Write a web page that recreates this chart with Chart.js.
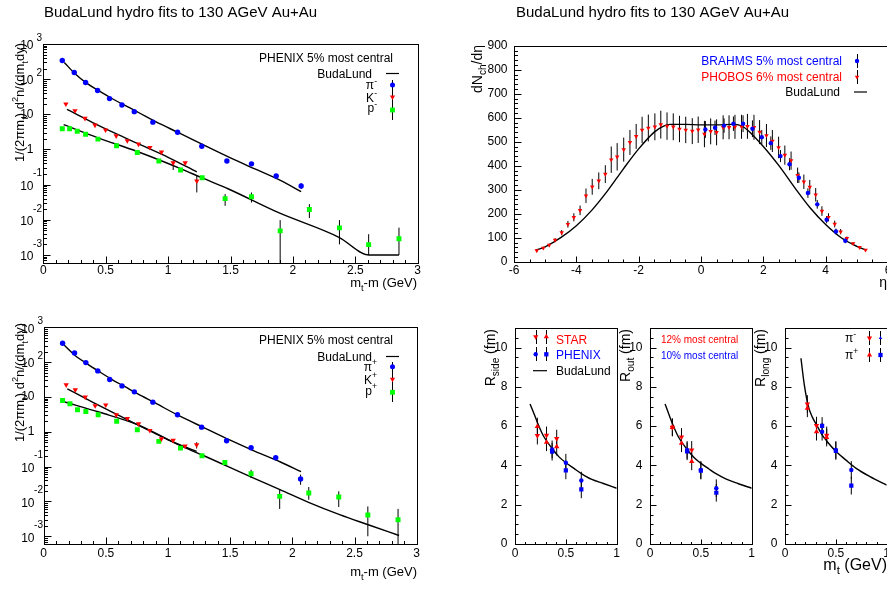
<!DOCTYPE html>
<html>
<head>
<meta charset="utf-8">
<script src="https://cdn.jsdelivr.net/npm/chart.js@4.4.0/dist/chart.umd.min.js"></script>
<style>
  html, body { margin: 0; padding: 0; background: #fff; overflow: hidden; width: 887px; height: 589px; }
  canvas { position: absolute; left: 0; top: 0; }
</style>
</head>
<body>
<canvas id="tl" width="900" height="589"></canvas>
<canvas id="tr" width="900" height="589"></canvas>
<canvas id="bl" width="900" height="589"></canvas>
<canvas id="side" width="900" height="589"></canvas>
<canvas id="out" width="900" height="589"></canvas>
<canvas id="long" width="900" height="589"></canvas>
<script>
// ---------- spectra (PHENIX 5% most central) ----------
const piX = [0.152, 0.248, 0.339, 0.435, 0.531, 0.63, 0.729, 0.878, 1.076, 1.27, 1.471, 1.668, 1.866, 2.066];
const piMinus = [341, 155, 80, 47.5, 28, 18.5, 11.9, 6.0, 3.1, 1.24, 0.47, 0.39, 0.177, 0.092];
const piPlus = [348, 184, 97, 56, 31.6, 20.8, 14, 7.1, 3.07, 1.36, 0.552, 0.348, 0.18, 0.044];
const kX = [0.181, 0.254, 0.334, 0.414, 0.499, 0.584, 0.673, 0.763, 0.854, 0.947, 1.041, 1.137, 1.23];
const kMinus = [19.7, 12.7, 7.7, 4.95, 3.6, 2.45, 1.77, 1.42, 1.14, 0.84, 0.416, 0.416, 0.127];
const kPlus = [22.2, 16, 9.9, 5.6, 5.9, 3.07, 2.41, 1.69, 1.09, 0.63, 0.565, 0.39, 0.42];
const pX = [0.152, 0.211, 0.272, 0.339, 0.438, 0.587, 0.753, 0.926, 1.1, 1.273, 1.457, 1.668, 1.898, 2.132, 2.373, 2.607, 2.85];
const pMinus = [3.9, 3.9, 3.3, 2.7, 1.97, 1.27, 0.82, 0.47, 0.26, 0.158, 0.04, 0.045, 0.00485, 0.0197, 0.0059, 0.00197, 0.0029];
const pPlus = [7.9, 6.35, 4.28, 3.83, 3.07, 2.02, 1.14, 0.53, 0.34, 0.205, 0.132, 0.0625, 0.014, 0.0175, 0.0134, 0.0041, 0.003];

// visible error bars only
const minusErrX = [1.23, 1.041, 2.066, 1.457, 1.668, 1.898, 2.132, 2.373, 2.607, 2.85];
const minusErrLo = [0.06, 0.26, 0.075, 0.025, 0.031, 0.0001, 0.0112, 0.002, 0.001, 0.001];
const minusErrHi = [0.18, 0.46, 0.11, 0.054, 0.06, 0.0098, 0.028, 0.0098, 0.0039, 0.006];
const plusErrX = [2.066, 1.668, 1.898, 2.132, 2.373, 2.607, 2.85, 1.23];
const plusErrLo = [0.030, 0.047, 0.0061, 0.0112, 0.0069, 0.001, 0.0001, 0.33];
const plusErrHi = [0.059, 0.081, 0.0227, 0.026, 0.0195, 0.0072, 0.0061, 0.5];

// BudaLund fits
const fitPiMinusX = [0.168, 0.25, 0.35, 0.45, 0.55, 0.65, 0.75, 0.9, 1.1, 1.3, 1.5, 1.7, 1.9, 2.066];
const fitPiMinus = [299, 148, 75.9, 45.7, 28.2, 18.2, 12.0, 6.17, 2.82, 1.26, 0.575, 0.275, 0.132, 0.063];
const fitPiPlusX = [0.164, 0.25, 0.35, 0.45, 0.55, 0.65, 0.75, 0.9, 1.1, 1.3, 1.5, 1.7, 1.9, 2.07];
const fitPiPlus = [309, 158, 89, 52.5, 31.6, 20, 12.6, 6.6, 2.75, 1.26, 0.575, 0.275, 0.138, 0.072];
const fitKX = [0.19, 0.4, 0.6, 0.8, 1.0, 1.23];
const fitKMinus = [13.8, 5.75, 2.63, 1.26, 0.6, 0.23];
const fitKPlus = [17, 6.9, 3.0, 1.32, 0.59, 0.275];
const fitPMinusX = [0.163, 0.438, 0.753, 1.1, 1.273, 1.484, 1.881, 2.373, 2.607, 2.85];
const fitPMinus = [5.07, 2.15, 0.877, 0.286, 0.155, 0.0752, 0.0162, 0.00313, 0.001, 0.001];
const fitPPlusX = [0.158, 0.45, 0.76, 1.1, 1.27, 1.67, 1.9, 2.14, 2.38, 2.61, 2.858];
const fitPPlus = [7.4, 3.63, 1.58, 0.398, 0.219, 0.05, 0.0219, 0.00912, 0.00417, 0.00214, 0.00105];

// ---------- dN/deta ----------
const phobosX = [-5.27, -5.06, -4.87, -4.68, -4.47, -4.27, -4.08, -3.88, -3.69, -3.49, -3.28, -3.07, -2.88, -2.69, -2.48, -2.28, -2.08, -1.89, -1.69, -1.48, -1.29, -1.09, -0.89, -0.69, -0.49, -0.28, -0.09, 0.11, 0.31, 0.5, 0.71, 0.9, 1.09, 1.3, 1.49, 1.7, 1.88, 2.1, 2.29, 2.49, 2.69, 2.89, 3.1, 3.3, 3.49, 3.68, 3.88, 4.09, 4.29, 4.48, 4.68, 4.88, 5.09, 5.28];
const phobos = [46, 57, 69, 90, 121, 156, 185, 214, 275, 312, 337, 365, 425, 437, 467, 497, 522, 549, 557, 562, 571, 565, 562, 553, 549, 544, 550, 532, 543, 539, 560, 560, 562, 562, 564, 560, 540, 526, 503, 476, 444, 421, 360, 333, 311, 279, 211, 185, 157, 125, 97, 76, 60, 49];
const phobosErr = [4, 5, 6, 8, 11, 14, 17, 20, 30, 33, 35, 37, 55, 57, 50, 52, 52, 55, 56, 56, 58, 57, 56, 55, 55, 54, 55, 55, 54, 54, 50, 50, 50, 50, 52, 52, 50, 48, 46, 45, 40, 38, 32, 30, 30, 28, 20, 17, 14, 11, 8, 6, 5, 4];
const brahmsX = [0.14, 0.45, 0.74, 1.04, 1.35, 1.65, 1.95, 2.24, 2.55, 2.84, 3.14, 3.43, 3.73, 4.03, 4.33, 4.63];
const brahms = [551, 558, 567, 575, 575, 554, 519, 494, 440, 406, 350, 286, 239, 175, 126, 87];
const brahmsErr = [35, 30, 30, 30, 35, 35, 30, 28, 25, 25, 22, 20, 18, 15, 12, 10];
const fitEtaX = [-5.3, -5, -4.5, -4, -3.5, -3, -2.5, -2, -1.5, -1.2, -1, -0.5, 0, 0.5, 1, 1.3, 1.5, 2, 2.5, 3, 3.5, 4, 4.5, 5, 5.3];
const fitEta = [48, 62, 100, 150, 215, 295, 385, 470, 540, 565, 572, 572, 570, 570, 572, 566, 548, 480, 400, 310, 225, 155, 100, 64, 48];

// ---------- HBT radii ----------
const starX = [0.22, 0.31, 0.41];
const phenixX = [0.365, 0.5, 0.652];
const sideStarMinus = [5.52, 5.53, 5.37], sideStarPlus = [5.98, 5.18, 4.96];
const sidePhxMinus = [4.82, 4.14, 3.23], sidePhxPlus = [4.70, 3.75, 2.78];
const outStarMinus = [5.94, 5.45, 4.79], outStarPlus = [5.94, 5.13, 4.21];
const outPhxMinus = [4.79, 3.77, 2.84], outPhxPlus = [4.72, 3.74, 2.61];
const longStarMinus = [7.13, 6.03, 5.53], longStarPlus = [6.91, 5.72, 5.42];
const longPhxMinus = [5.72, 4.79, 3.77], longPhxPlus = [6.01, 4.74, 2.97];
const radErr = 0.45;
const fitSideX = [0.148, 0.19, 0.223, 0.28, 0.36, 0.43, 0.498, 0.58, 0.649, 0.75, 0.869, 1.0];
const fitSide = [7.13, 6.6, 6.15, 5.5, 4.9, 4.45, 4.15, 3.85, 3.6, 3.3, 3.08, 2.84];
const fitOut = [7.13, 6.55, 6.1, 5.45, 4.85, 4.42, 4.12, 3.82, 3.58, 3.3, 3.07, 2.84];
const fitLongX = [0.157, 0.19, 0.23, 0.27, 0.311, 0.36, 0.416, 0.5, 0.6, 0.7, 0.836, 1.0];
const fitLong = [9.46, 8.1, 7.0, 6.45, 6.06, 5.6, 5.21, 4.72, 4.27, 3.85, 3.43, 3.0];

// tick labels
const spectraXLabels = ['0', '0.5', '1', '1.5', '2', '2.5', '3'];
const spectraYExp = [-3, -2, -1, 0, 1, 2, 3];
const etaXLabels = ['-6', '-4', '-2', '0', '2', '4', '6'];
const etaYLabels = ['0', '100', '200', '300', '400', '500', '600', '700', '800', '900'];
const radXLabels = ['0', '0.5', '1'];
const radYLabels = ['0', '2', '4', '6', '8', '10'];

const FONT = '"Liberation Sans", Arial, Helvetica, sans-serif';
const BLUE = '#0000ff', RED = '#ff0000', GREEN = '#00ff00';

// ---------- helpers ----------
const pts = (xs, ys) => xs.map((x, i) => ({ x, y: ys[i] }));
const errPts = (xs, lo, hi) => xs.flatMap((x, i) => [{ x, y: lo[i] }, { x, y: hi[i] }, { x, y: null }]);
const symErr = (xs, ys, e) => errPts(xs, ys.map((y, i) => y - (Array.isArray(e) ? e[i] : e)), ys.map((y, i) => y + (Array.isArray(e) ? e[i] : e)));

const dots = (data, color, style, r, rot) => ({
  data, pointStyle: style, pointRadius: r, rotation: rot || 0,
  backgroundColor: color, borderColor: color, borderWidth: 0, showLine: false,
});
const curve = data => ({
  data, showLine: true, pointRadius: 0, borderColor: '#000', borderWidth: 1.4,
  cubicInterpolationMode: 'monotone', fill: false,
});
const bars = data => ({ data, showLine: true, spanGaps: false, pointRadius: 0, borderColor: '#000', borderWidth: 1 });

function steps(a, b, d) {
  const out = [];
  const n = Math.round((b - a) / d);
  for (let i = 0; i <= n; i++) out.push(+(a + i * d).toFixed(6));
  return out;
}
function logMinor(min, max) {
  const out = [];
  for (let e = -4; e <= 3; e++) for (let k = 2; k <= 9; k++) {
    const v = k * Math.pow(10, e);
    if (v > min && v < max) out.push(v);
  }
  return out;
}

function txt(ctx, s, x, y, size, align, color, base) {
  ctx.font = size + 'px ' + FONT;
  ctx.fillStyle = color || '#000';
  ctx.textAlign = align || 'left';
  ctx.textBaseline = base || 'alphabetic';
  ctx.fillText(s, x, y);
}
// parts: [text, mode]; mode 0 normal, 1 subscript, 2 superscript
function rich(ctx, parts, x, y, size, align, color) {
  const fs = m => (m ? size * 0.72 : size);
  let w = 0;
  parts.forEach(([t, m]) => { ctx.font = fs(m) + 'px ' + FONT; w += ctx.measureText(t).width; });
  let cx = align === 'right' ? x - w : align === 'center' ? x - w / 2 : x;
  ctx.fillStyle = color || '#000';
  ctx.textAlign = 'left';
  ctx.textBaseline = 'alphabetic';
  parts.forEach(([t, m]) => {
    ctx.font = fs(m) + 'px ' + FONT;
    const dy = m === 1 ? size * 0.28 : m === 2 ? -size * 0.45 : 0;
    ctx.fillText(t, cx, y + dy);
    cx += ctx.measureText(t).width;
  });
}
function vtitle(ctx, parts, x, yTop, size) {
  ctx.save();
  ctx.translate(x, yTop);
  ctx.rotate(-Math.PI / 2);
  rich(ctx, parts, 0, 0, size, 'right');
  ctx.restore();
}
function mark(ctx, style, x, y, r, color) {
  ctx.fillStyle = color;
  ctx.beginPath();
  if (style === 'circle') ctx.arc(x, y, r, 0, Math.PI * 2);
  else if (style === 'rect') ctx.rect(x - r * 0.71, y - r * 0.71, r * 1.42, r * 1.42);
  else if (style === 'down') { ctx.moveTo(x - r * 0.87, y - r * 0.5); ctx.lineTo(x + r * 0.87, y - r * 0.5); ctx.lineTo(x, y + r); }
  else { ctx.moveTo(x - r * 0.87, y + r * 0.5); ctx.lineTo(x + r * 0.87, y + r * 0.5); ctx.lineTo(x, y - r); }
  ctx.closePath();
  ctx.fill();
}
function vline(ctx, x, y0, y1) {
  ctx.strokeStyle = '#000'; ctx.lineWidth = 1;
  ctx.beginPath(); ctx.moveTo(Math.round(x) + 0.5, y0); ctx.lineTo(Math.round(x) + 0.5, y1); ctx.stroke();
}
function hline(ctx, x0, x1, y) {
  ctx.strokeStyle = '#000'; ctx.lineWidth = 1.2;
  ctx.beginPath(); ctx.moveTo(x0, y); ctx.lineTo(x1, y); ctx.stroke();
}

// ROOT-like frame: box, inward ticks, labels, extras
const rootFrame = {
  id: 'rootFrame',
  afterDatasetsDraw(chart, args, o) {
    const ctx = chart.ctx, a = chart.chartArea;
    const sx = chart.scales.x, sy = chart.scales.y;
    const L = Math.round(a.left) + 0.5, R = Math.round(a.right) + 0.5;
    const T = Math.round(a.top) + 0.5, B = Math.round(a.bottom) + 0.5;
    ctx.save();
    ctx.strokeStyle = '#000';
    ctx.lineWidth = 1;
    ctx.strokeRect(L, T, R - L, B - T);
    ctx.beginPath();
    o.xMajor.forEach(v => { const p = Math.round(sx.getPixelForValue(v)) + 0.5; ctx.moveTo(p, B); ctx.lineTo(p, B - o.xt); });
    o.xMinor.forEach(v => { const p = Math.round(sx.getPixelForValue(v)) + 0.5; ctx.moveTo(p, B); ctx.lineTo(p, B - o.xt / 2); });
    o.yMajor.forEach(v => { const p = Math.round(sy.getPixelForValue(v)) + 0.5; ctx.moveTo(L, p); ctx.lineTo(L + o.yt, p); });
    o.yMinor.forEach(v => { const p = Math.round(sy.getPixelForValue(v)) + 0.5; ctx.moveTo(L, p); ctx.lineTo(L + o.yt / 2, p); });
    ctx.stroke();
    o.xLabels.forEach(([v, s]) => txt(ctx, s, sx.getPixelForValue(v), o.xLabelY, 12, 'center', '#000', 'middle'));
    o.yLabels.forEach(([v, s, e]) => {
      const p = sy.getPixelForValue(v);
      if (e === undefined) {
        txt(ctx, s, L - o.yGap, p, 12, 'right', '#000', 'middle');
      } else {
        txt(ctx, s, L - 10, p + 2, 12, 'right', '#000', 'middle');
        txt(ctx, e, L - 1.5, p + (e[0] === '-' ? -11 : -6), 10, 'right', '#000', 'middle');
      }
    });
    if (o.extra) o.extra(ctx);
    ctx.restore();
  },
};

function panel(id, box, xScale, yScale, datasets, frame) {
  return new Chart(document.getElementById(id), {
    type: 'scatter',
    data: { datasets },
    options: {
      responsive: false,
      animation: false,
      events: [],
      layout: { padding: { left: box[0], top: box[1], right: 900 - box[2], bottom: 589 - box[3] } },
      scales: {
        x: Object.assign({ display: false }, xScale),
        y: Object.assign({ display: false }, yScale),
      },
      plugins: { legend: { display: false }, tooltip: { enabled: false }, rootFrame: frame },
    },
    plugins: [rootFrame],
  });
}

const spectraY = (lo) => ({ type: 'logarithmic', min: lo, max: 1000 });
const spectraYLabels = spectraYExp.map(e => e === 0 ? [1, '1'] : e === 1 ? [10, '10'] : [Math.pow(10, e), '10', String(e)]);
const spectraFrame = (lo, labelY, extra) => ({
  xMajor: steps(0, 3, 0.5), xMinor: steps(0, 3, 0.1), xt: 7,
  yMajor: spectraYExp.map(e => Math.pow(10, e)), yMinor: logMinor(lo, 1000), yt: 7,
  xLabels: spectraXLabels.map(s => [parseFloat(s), s]), xLabelY: labelY,
  yLabels: spectraYLabels, yGap: 10, extra,
});
const yTitleSpectra = [['1/(2πm', 0], ['t', 1], [') d', 0], ['2', 2], ['n/(dm', 0], ['t', 1], ['dy)', 0]];
const xTitleSpectra = [['m', 0], ['t', 1], ['-m (GeV)', 0]];
const TITLE = 'BudaLund hydro fits to 130 AGeV Au+Au';

// ---------- top left: negative particles ----------
panel('tl', [43.3, 44, 417.7, 263.3], { min: 0, max: 3 }, spectraY(5.8e-4), [
  dots(pts(piX, piMinus), BLUE, 'circle', 2.7),
  dots(pts(kX, kMinus), RED, 'triangle', 3.1, 180),
  dots(pts(pX, pMinus), GREEN, 'rect', 3.5),
  curve(pts(fitPiMinusX, fitPiMinus)),
  curve(pts(fitKX, fitKMinus)),
  curve(pts(fitPMinusX, fitPMinus)),
  bars(errPts(minusErrX, minusErrLo, minusErrHi)),
], spectraFrame(5.8e-4, 271, ctx => {
  txt(ctx, TITLE, 44, 17, 15);
  vtitle(ctx, yTitleSpectra, 24, 43, 13);
  rich(ctx, xTitleSpectra, 417, 287, 13, 'right');
  txt(ctx, 'PHENIX 5% most central', 393, 61.5, 12, 'right');
  txt(ctx, 'BudaLund', 372, 77.5, 12, 'right');
  hline(ctx, 386, 399, 73.5);
  rich(ctx, [['π', 0], ['-', 2]], 377, 89, 12, 'right');
  rich(ctx, [['K', 0], ['-', 2]], 377, 101.5, 12, 'right');
  rich(ctx, [['p', 0], ['-', 2]], 377, 112, 12, 'right');
  vline(ctx, 392, 80, 120);
  mark(ctx, 'circle', 392.5, 85, 2.5, BLUE);
  mark(ctx, 'down', 392.5, 97, 3, RED);
  mark(ctx, 'rect', 392.5, 110, 3.4, GREEN);
}));

// ---------- bottom left: positive particles ----------
panel('bl', [43.7, 327.3, 416.7, 544], { min: 0, max: 3 }, spectraY(6.2e-4), [
  dots(pts(piX, piPlus), BLUE, 'circle', 2.7),
  dots(pts(kX, kPlus), RED, 'triangle', 3.1, 180),
  dots(pts(pX, pPlus), GREEN, 'rect', 3.5),
  curve(pts(fitPiPlusX, fitPiPlus)),
  curve(pts(fitKX, fitKPlus)),
  curve(pts(fitPPlusX, fitPPlus)),
  bars(errPts(plusErrX, plusErrLo, plusErrHi)),
], spectraFrame(6.2e-4, 553.3, ctx => {
  vtitle(ctx, yTitleSpectra, 24, 323, 13);
  rich(ctx, xTitleSpectra, 417, 576, 13, 'right');
  txt(ctx, 'PHENIX 5% most central', 393, 343.5, 12, 'right');
  txt(ctx, 'BudaLund', 372, 360.5, 12, 'right');
  hline(ctx, 386, 399, 356.5);
  rich(ctx, [['π', 0], ['+', 2]], 377, 370.5, 12, 'right');
  rich(ctx, [['K', 0], ['+', 2]], 377, 383.5, 12, 'right');
  rich(ctx, [['p', 0], ['+', 2]], 377, 394.5, 12, 'right');
  vline(ctx, 392, 362, 402);
  mark(ctx, 'circle', 392.5, 366.7, 2.5, BLUE);
  mark(ctx, 'down', 392.5, 379.3, 3, RED);
  mark(ctx, 'rect', 392.5, 392.3, 3.4, GREEN);
}));

// ---------- top right: dN/deta ----------
panel('tr', [514, 45.7, 888, 261.7], { min: -6, max: 6 }, { min: 0, max: 900 }, [
  dots(pts(brahmsX, brahms), BLUE, 'circle', 2.2),
  dots(pts(phobosX, phobos), RED, 'triangle', 2.6, 180),
  curve(pts(fitEtaX, fitEta)),
  bars(symErr(brahmsX, brahms, brahmsErr)),
  bars(symErr(phobosX, phobos, phobosErr)),
], {
  xMajor: steps(-6, 6, 2), xMinor: steps(-6, 6, 0.5), xt: 6,
  yMajor: steps(0, 900, 100), yMinor: steps(0, 900, 20), yt: 7,
  xLabels: etaXLabels.map(s => [parseFloat(s), s]), xLabelY: 270.7,
  yLabels: etaYLabels.map(s => [parseFloat(s), s]), yGap: 7,
  extra: ctx => {
    txt(ctx, TITLE, 516, 17, 15);
    vtitle(ctx, [['dN', 0], ['ch', 1], ['/dη', 0]], 482, 45, 14);
    txt(ctx, 'η', 887, 287, 14, 'right');
    txt(ctx, 'BRAHMS 5% most central', 842, 65, 12, 'right', BLUE);
    txt(ctx, 'PHOBOS 6% most central', 842, 81, 12, 'right', RED);
    txt(ctx, 'BudaLund', 840, 96, 12, 'right');
    vline(ctx, 856.5, 54, 68);
    mark(ctx, 'circle', 857, 61, 2.2, BLUE);
    vline(ctx, 856.5, 70, 84);
    mark(ctx, 'down', 857, 77, 2.6, RED);
    hline(ctx, 854, 867, 92);
  },
});

// ---------- bottom right: HBT radii ----------
const radFrame = extra => ({
  xMajor: steps(0, 1, 0.5), xMinor: steps(0, 1, 0.1), xt: 5,
  yMajor: steps(0, 10, 2), yMinor: steps(0, 11, 0.5), yt: 6,
  xLabels: radXLabels.map(s => [parseFloat(s), s]), xLabelY: 553.3,
  yLabels: radYLabels.map(s => [parseFloat(s), s]), yGap: 8, extra,
});
const radSets = (sm, sp, pm, pp, fitX, fit) => [
  dots(pts(starX, sm), RED, 'triangle', 3.1, 180),
  dots(pts(starX, sp), RED, 'triangle', 3.1),
  dots(pts(phenixX, pm), BLUE, 'circle', 2.2),
  dots(pts(phenixX, pp), BLUE, 'rect', 3),
  curve(pts(fitX, fit)),
  bars(symErr(starX, sm, radErr)),
  bars(symErr(starX, sp, radErr)),
  bars(symErr(phenixX, pm, radErr)),
  bars(symErr(phenixX, pp, radErr)),
];

panel('side', [515, 328, 616.7, 544], { min: 0, max: 1 }, { min: 0, max: 11 },
  radSets(sideStarMinus, sideStarPlus, sidePhxMinus, sidePhxPlus, fitSideX, fitSide),
  radFrame(ctx => {
    vtitle(ctx, [['R', 0], ['side', 1], [' (fm)', 0]], 495, 329, 14);
    vline(ctx, 535.5, 330, 344); mark(ctx, 'down', 535.7, 336.7, 3, RED);
    vline(ctx, 546, 330, 344); mark(ctx, 'up', 546.3, 336.7, 3, RED);
    txt(ctx, 'STAR', 556, 343.5, 12, 'left', RED);
    vline(ctx, 535.5, 347, 361); mark(ctx, 'circle', 535.7, 354.3, 2.2, BLUE);
    vline(ctx, 546, 347, 361); mark(ctx, 'rect', 546.3, 354.3, 3, BLUE);
    txt(ctx, 'PHENIX', 556, 358.8, 12, 'left', BLUE);
    hline(ctx, 533, 547, 370.7);
    txt(ctx, 'BudaLund', 556, 375, 12, 'left');
  }));

panel('out', [650, 328, 751.7, 544], { min: 0, max: 1 }, { min: 0, max: 11 },
  radSets(outStarMinus, outStarPlus, outPhxMinus, outPhxPlus, fitSideX, fitOut),
  radFrame(ctx => {
    vtitle(ctx, [['R', 0], ['out', 1], [' (fm)', 0]], 630, 329, 14);
    txt(ctx, '12% most central', 661, 342.5, 10, 'left', RED);
    txt(ctx, '10% most central', 661, 358.5, 10, 'left', BLUE);
  }));

panel('long', [785, 328, 886.7, 544], { min: 0, max: 1 }, { min: 0, max: 11 },
  radSets(longStarMinus, longStarPlus, longPhxMinus, longPhxPlus, fitLongX, fitLong),
  radFrame(ctx => {
    vtitle(ctx, [['R', 0], ['long', 1], [' (fm)', 0]], 765, 329, 14);
    rich(ctx, [['π', 0], ['-', 2]], 845, 342, 12, 'left');
    rich(ctx, [['π', 0], ['+', 2]], 845, 359, 12, 'left');
    vline(ctx, 869, 331, 345); mark(ctx, 'down', 869.5, 338, 3, RED);
    vline(ctx, 880, 331, 345); mark(ctx, 'up', 880.5, 338, 2, BLUE);
    vline(ctx, 869, 348, 362); mark(ctx, 'up', 869.5, 355, 3, RED);
    vline(ctx, 880, 348, 362); mark(ctx, 'rect', 880.5, 355, 3, BLUE);
    rich(ctx, [['m', 0], ['t', 1], [' (GeV)', 0]], 887, 570, 16, 'right');
  }));
</script>
</body>
</html>
